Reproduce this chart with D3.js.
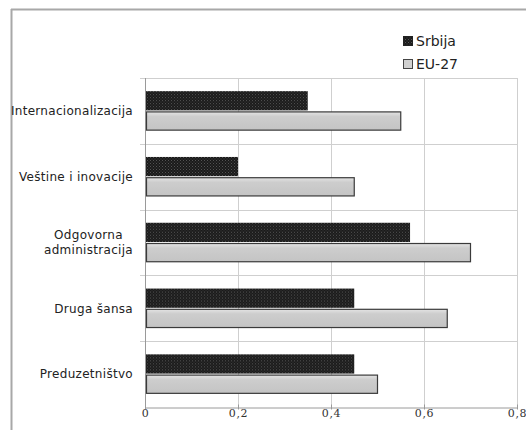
<!DOCTYPE html>
<html><head><meta charset="utf-8">
<script src="https://cdn.jsdelivr.net/npm/d3@7"></script>
<style>body{margin:0;background:#fff}svg{display:block}</style>
</head><body>
<svg id="c" width="526" height="430"></svg>
<script>
const categories = ["Internacionalizacija","Veštine i inovacije","Odgovorna administracija","Druga šansa","Preduzetništvo"];
const categoryLines = [["Internacionalizacija"],["Veštine i inovacije"],["Odgovorna","administracija"],["Druga šansa"],["Preduzetništvo"]];
const seriesNames = ["Srbija","EU-27"];
const srbija = [0.35,0.20,0.57,0.45,0.45];
const eu27 = [0.55,0.45,0.70,0.65,0.50];
const tickValues = [0,0.2,0.4,0.6,0.8];
const tickLabels = ["0","0,2","0,4","0,6","0,8"];

const svg = d3.select("#c");
const defs = svg.append("defs");
const pat = defs.append("pattern").attr("id","dots").attr("patternUnits","userSpaceOnUse").attr("width",3).attr("height",3);
pat.append("rect").attr("width",3).attr("height",3).attr("fill","#1a1a1a");
pat.append("rect").attr("x",0).attr("y",0).attr("width",1).attr("height",1).attr("fill","#555");
pat.append("rect").attr("x",1.5).attr("y",1.5).attr("width",1).attr("height",1).attr("fill","#444");
const g1 = defs.append("linearGradient").attr("id","gr").attr("x1",0).attr("y1",0).attr("x2",0).attr("y2",1);
g1.append("stop").attr("offset","0").attr("stop-color","#e4e4e4");
g1.append("stop").attr("offset","0.25").attr("stop-color","#cdcdcd");
g1.append("stop").attr("offset","1").attr("stop-color","#c4c4c4");

// frame
svg.append("line").attr("x1",11).attr("x2",526).attr("y1",9.5).attr("y2",9.5).attr("stroke","#a8a8a8").attr("stroke-width",2);
svg.append("line").attr("x1",11.5).attr("x2",11.5).attr("y1",9).attr("y2",430).attr("stroke","#a8a8a8").attr("stroke-width",2);

const x = d3.scaleLinear().domain([0,0.8]).range([145,517]);
const y = d3.scaleBand().domain(categories).range([78,407]).paddingInner(0.4).paddingOuter(0.2);
const ys = d3.scaleBand().domain(seriesNames).range([0,y.bandwidth()]).paddingInner(0.05);
const step = y.step();

// vertical grid
svg.append("g").selectAll("line").data(tickValues.slice(1)).join("line")
  .attr("x1",d=>x(d)+0.5).attr("x2",d=>x(d)+0.5).attr("y1",78).attr("y2",407)
  .attr("stroke","#cfcfcf");
// horizontal grid (band boundaries)
const bounds = d3.range(categories.length).map(i=>78+i*step);
svg.append("g").selectAll("line").data(bounds).join("line")
  .attr("x1",140).attr("x2",517).attr("y1",d=>Math.round(d)+0.5).attr("y2",d=>Math.round(d)+0.5)
  .attr("stroke","#cfcfcf");

// axes
const xAxis = d3.axisBottom(x).tickValues(tickValues).tickFormat((d,i)=>tickLabels[i]).tickSize(5).tickSizeOuter(0);
const gx = svg.append("g").attr("transform","translate(0,407.5)").call(xAxis);
gx.select(".domain").attr("stroke","#9a9a9a");
gx.selectAll(".tick line").attr("stroke","#9a9a9a").attr("transform","translate(0,-3)");
gx.selectAll(".tick text").attr("font-family","DejaVu Serif").attr("font-size",11).attr("letter-spacing",0.6).attr("fill","#333").attr("dy","0.55em").attr("y",3);
svg.append("line").attr("x1",145.5).attr("x2",145.5).attr("y1",78).attr("y2",408).attr("stroke","#9a9a9a");

// bars
const data = categories.map((c,i)=>({c, vals:[srbija[i],eu27[i]]}));
const rows = svg.append("g").selectAll("g").data(data).join("g").attr("transform",d=>`translate(0,${y(d.c)})`);
rows.append("rect").attr("x",x(0)+1).attr("y",ys("Srbija")).attr("height",ys.bandwidth())
  .attr("width",d=>x(d.vals[0])-x(0)-1).attr("fill","url(#dots)");
rows.append("rect").attr("x",x(0)+1.5).attr("y",ys("EU-27")+0.5).attr("height",ys.bandwidth()-1)
  .attr("width",d=>x(d.vals[1])-x(0)-1.5).attr("fill","url(#gr)").attr("stroke","#3a3a3a").attr("stroke-width",1.2);

// category labels
const labG = svg.append("g");
categoryLines.forEach((lines,i)=>{
  const cy = y(categories[i]) + y.bandwidth()/2;
  const t = labG.append("text").attr("font-family","DejaVu Sans").attr("font-size",12).attr("letter-spacing",0.3).attr("fill","#222");
  const lh = 15;
  lines.forEach((ln,j)=>{
    t.append("tspan").text(ln).attr("y",cy + (j-(lines.length-1)/2)*lh).attr("dy","0.35em");
  });
  const spans = t.selectAll("tspan").nodes();
  const widths = spans.map(s=>s.getComputedTextLength());
  const maxW = d3.max(widths);
  const cx = 133 - maxW/2;
  t.selectAll("tspan").attr("x",cx).attr("text-anchor","middle");
});

// legend
const legend = svg.append("g");
const lg = [{n:"Srbija",fill:"url(#dots)",stroke:"#222"},{n:"EU-27",fill:"#d0d0d0",stroke:"#444"}];
lg.forEach((d,i)=>{
  const yy = 41 + i*23;
  legend.append("rect").attr("x",403.5).attr("y",yy-4.5).attr("width",9).attr("height",9).attr("fill",d.fill).attr("stroke",d.stroke);
  legend.append("text").attr("x",416).attr("y",yy).attr("dy","0.36em").text(d.n)
    .attr("font-family","DejaVu Sans").attr("font-size",14).attr("fill","#222");
});
</script>
</body></html>
